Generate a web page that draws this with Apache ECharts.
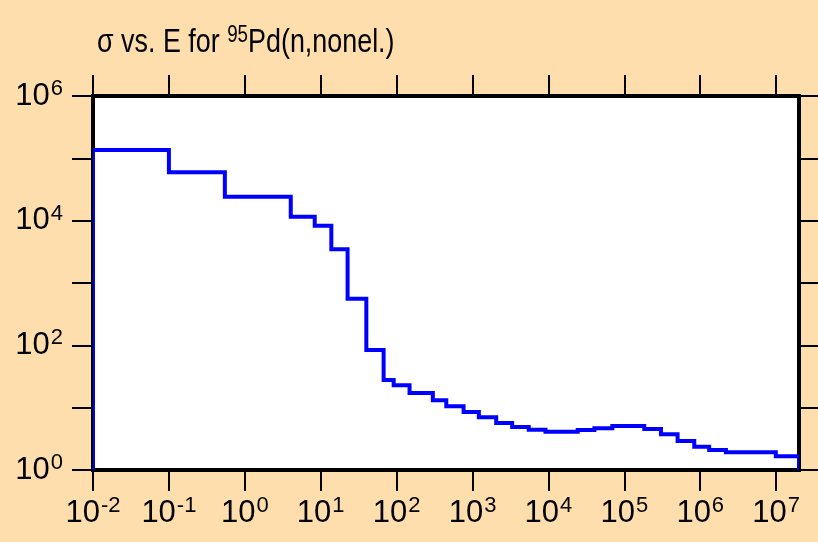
<!DOCTYPE html>
<html><head><meta charset="utf-8">
<script src="https://cdn.jsdelivr.net/npm/echarts@6/dist/echarts.min.js"></script>
<style>html,body{margin:0;padding:0;background:#FFDEAD}#c{width:818px;height:542px}</style>
</head><body><div id="c"></div>
<script>
// Group boundaries (energy, eV) and group-averaged cross sections (b)
const groupEdges = [0.01, 0.1, 0.546, 4.03, 8.34, 13.8, 22.6, 39.9, 67.4, 91.4, 148, 300, 451, 762, 1211, 2050, 3330, 5500, 9140, 24300, 40300, 69500, 1.83e5, 3.04e5, 5.03e5, 8.34e5, 1.31e6, 2.18e6, 9.9e6, 2e7];
const groupSigma = [1.36e5, 5.97e4, 2.43e4, 1.16e4, 8.3e3, 3.47e3, 560, 84, 27.8, 22.9, 17.2, 13.1, 10.5, 8.5, 7.0, 5.68, 4.9, 4.43, 4.11, 4.38, 4.67, 5.08, 4.55, 3.74, 2.92, 2.37, 2.09, 1.93, 1.66];
const xTicks = [1e-2, 1e-1, 1e0, 1e1, 1e2, 1e3, 1e4, 1e5, 1e6, 1e7];
const yTicks = [1e0, 1e1, 1e2, 1e3, 1e4, 1e5, 1e6];
const yLabels = [1e0, 1e2, 1e4, 1e6];
const xMin = 1e-2, xMax = 2e7, yMin = 1, yMax = 1e6;
const titleMain1 = 'σ vs. E for ', titleSup = '95', titleMain2 = 'Pd(n,nonel.)';

// histogram outline: corners built from the group arrays
const stepPoints = [[groupEdges[0], yMin]];
for (let i = 0; i < groupSigma.length; i++) {
  stepPoints.push([groupEdges[i], groupSigma[i]]);
  stepPoints.push([groupEdges[i + 1], groupSigma[i]]);
}
stepPoints.push([groupEdges[groupEdges.length - 1], yMin]);

const FONT = 'Liberation Sans, Arial, sans-serif';
const rich = {
  b: { fontSize: 31, lineHeight: 36, fontFamily: FONT, color: '#000' },
  s: { fontSize: 22, lineHeight: 21, fontFamily: FONT, color: '#000', verticalAlign: 'top', padding: [0, 0, 0, 1] }
};
const titleRich = {
  b: { fontSize: 33, lineHeight: 38, fontFamily: FONT, fill: '#000', fontWeight: 'normal' },
  s: { fontSize: 23, lineHeight: 22, fontFamily: FONT, fill: '#000', fontWeight: 'normal', verticalAlign: 'top' }
};
function powLabel(v) {
  const e = Math.round(Math.log10(v));
  return '{b|10}{s|' + e + '}';
}
const tickStyle = { show: true, inside: false, length: 21, lineStyle: { color: '#000', width: 2 } };

const chart = echarts.init(document.getElementById('c'), null, { renderer: 'canvas' });
chart.setOption({
  backgroundColor: '#FFDEAD',
  animation: false,
  graphic: [{
    type: 'text', x: 97, y: 24, scaleX: 0.815, scaleY: 1, z: 10,
    style: {
      text: '{b|' + titleMain1 + '}{s|' + titleSup + '}{b|' + titleMain2 + '}',
      rich: titleRich, fill: '#000', font: 'normal 33px ' + FONT,
      textAlign: 'left', textVerticalAlign: 'top', verticalAlign: 'top'
    }
  }],
  grid: { left: 93, top: 96, width: 706, height: 374, show: true, backgroundColor: '#fff', borderColor: '#000', borderWidth: 4 },
  xAxis: [
    { type: 'log', logBase: 10, min: xMin, max: xMax, position: 'bottom',
      axisLine: { show: false }, splitLine: { show: false },
      axisTick: Object.assign({ customValues: xTicks }, tickStyle),
      axisLabel: { customValues: xTicks, margin: 25, formatter: powLabel, rich: rich } },
    { type: 'log', logBase: 10, min: xMin, max: xMax, position: 'top',
      axisLine: { show: false }, splitLine: { show: false },
      axisTick: Object.assign({ customValues: xTicks }, tickStyle),
      axisLabel: { show: false } }
  ],
  yAxis: [
    { type: 'log', logBase: 10, min: yMin, max: yMax, position: 'left',
      axisLine: { show: false }, splitLine: { show: false },
      axisTick: Object.assign({ customValues: yTicks }, tickStyle),
      axisLabel: { customValues: yLabels, margin: 30, formatter: powLabel, rich: rich } },
    { type: 'log', logBase: 10, min: yMin, max: yMax, position: 'right',
      axisLine: { show: false }, splitLine: { show: false },
      axisTick: Object.assign({ customValues: yTicks }, tickStyle),
      axisLabel: { show: false } }
  ],
  series: [{
    type: 'custom', coordinateSystem: 'cartesian2d', xAxisIndex: 0, yAxisIndex: 0,
    data: [[xMin, yMin]],
    renderItem: function (params, api) {
      const pts = stepPoints.map(function (p) { return api.coord(p); });
      const cs = params.coordSys;
      return {
        type: 'polyline',
        shape: { points: pts },
        style: { stroke: '#0000ff', lineWidth: 4, fill: null, lineJoin: 'miter' },
        clipPath: { type: 'rect', shape: { x: cs.x, y: cs.y, width: cs.width, height: cs.height } }
      };
    }
  }]
});
</script></body></html>
